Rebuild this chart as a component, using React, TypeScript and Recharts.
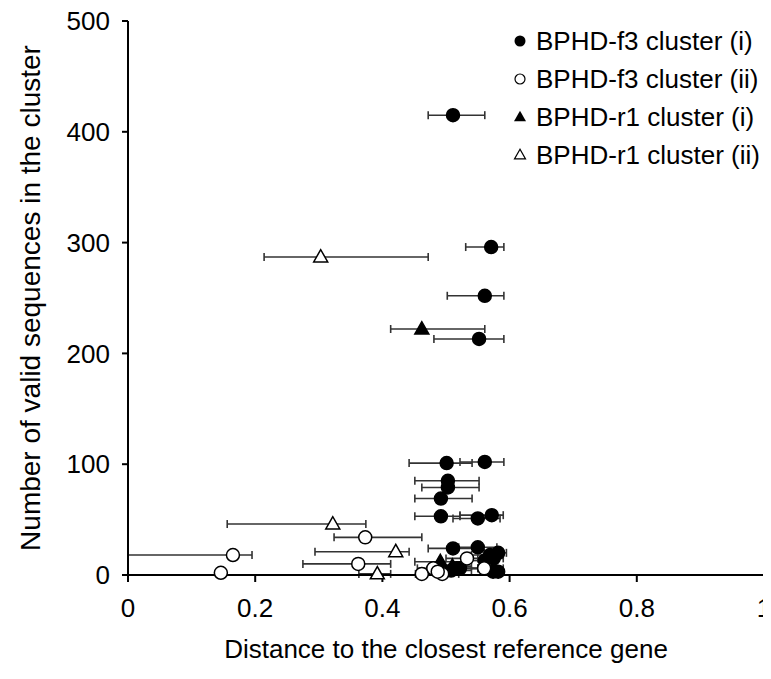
import React from 'react';
import {
  ErrorBar,
  Legend,
  Scatter,
  ScatterChart,
  XAxis,
  YAxis,
} from 'recharts';

const FONT = '"Liberation Sans", Arial, Helvetica, sans-serif';

const X_TICKS = [0, 0.2, 0.4, 0.6, 0.8, 1];
const Y_TICKS = [0, 100, 200, 300, 400, 500];

const SERIES_NAMES = [
  'BPHD-f3 cluster (i)',
  'BPHD-f3 cluster (ii)',
  'BPHD-r1 cluster (i)',
  'BPHD-r1 cluster (ii)',
];

// BPHD-f3 cluster (i) - filled circles
const F3_I_X = [0.511, 0.571, 0.561, 0.552, 0.501, 0.561, 0.503, 0.503, 0.492, 0.492, 0.550, 0.572, 0.511, 0.550, 0.569, 0.582, 0.575, 0.561, 0.517, 0.522, 0.574, 0.582, 0.508];
const F3_I_Y = [415, 296, 252, 213, 101, 102, 85, 79, 69, 53, 51, 54, 24, 25, 18, 20, 15, 13, 6, 6, 3, 3, 4];
const F3_I_LO = [0.472, 0.531, 0.502, 0.481, 0.442, 0.522, 0.451, 0.462, 0.451, 0.451, 0.511, 0.522, 0.472, 0.520, 0.540, 0.560, 0.550, 0.530, 0.480, 0.490, 0.560, 0.570, 0.470];
const F3_I_HI = [0.561, 0.591, 0.591, 0.591, 0.541, 0.591, 0.552, 0.552, 0.541, 0.522, 0.585, 0.590, 0.550, 0.580, 0.590, 0.595, 0.590, 0.580, 0.550, 0.550, 0.585, 0.590, 0.540];

// BPHD-f3 cluster (ii) - open circles
const F3_II_X = [0.165, 0.146, 0.373, 0.362, 0.533, 0.560, 0.462, 0.480, 0.494, 0.487];
const F3_II_Y = [18, 2, 34, 10, 15, 6, 1, 6, 1, 3];
const F3_II_LO = [0, 0.146, 0.324, 0.275, 0.500, 0.520, 0.452, 0.455, 0.470, 0.460];
const F3_II_HI = [0.195, 0.146, 0.462, 0.413, 0.560, 0.590, 0.470, 0.510, 0.520, 0.510];

// BPHD-r1 cluster (i) - filled triangles
const R1_I_X = [0.462, 0.491, 0.510];
const R1_I_Y = [222, 12, 8];
const R1_I_LO = [0.413, 0.451, 0.480];
const R1_I_HI = [0.561, 0.530, 0.540];

// BPHD-r1 cluster (ii) - open triangles
const R1_II_X = [0.303, 0.322, 0.421, 0.392];
const R1_II_Y = [287, 46, 21, 1];
const R1_II_LO = [0.214, 0.156, 0.294, 0.363];
const R1_II_HI = [0.472, 0.374, 0.442, 0.413];

const toRows = (xs: number[], ys: number[], lo: number[], hi: number[]) =>
  xs.map((x, i) => ({ x, y: ys[i], err: [x - lo[i], hi[i] - x] }));

const f3i = toRows(F3_I_X, F3_I_Y, F3_I_LO, F3_I_HI);
const f3ii = toRows(F3_II_X, F3_II_Y, F3_II_LO, F3_II_HI);
const r1i = toRows(R1_I_X, R1_I_Y, R1_I_LO, R1_I_HI);
const r1ii = toRows(R1_II_X, R1_II_Y, R1_II_LO, R1_II_HI);

const circleShape = (fill: string, r: number) => (props: any) => (
  <circle cx={props.cx} cy={props.cy} r={r} fill={fill} stroke="#000" strokeWidth={1.5} />
);

const triPoints = (cx: number, cy: number, s: number) =>
  `${cx},${cy - s * 1.05} ${cx - s},${cy + s * 0.7} ${cx + s},${cy + s * 0.7}`;

const triangleShape = (fill: string, s: number) => (props: any) => (
  <polygon points={triPoints(props.cx, props.cy, s)} fill={fill} stroke="#000" strokeWidth={1.5} />
);

function LegendBox() {
  const marks = [
    (cx: number, cy: number) => <circle cx={cx} cy={cy} r={5.5} fill="#000" />,
    (cx: number, cy: number) => <circle cx={cx} cy={cy} r={5} fill="#fff" stroke="#000" strokeWidth={1.2} />,
    (cx: number, cy: number) => <polygon points={triPoints(cx, cy, 6)} fill="#000" />,
    (cx: number, cy: number) => <polygon points={triPoints(cx, cy, 5.5)} fill="#fff" stroke="#000" strokeWidth={1.2} />,
  ];
  return (
    <svg width={260} height={160} style={{ display: 'block' }}>
      {SERIES_NAMES.map((name, i) => (
        <g key={name}>
          {marks[i](11, 21 + i * 38)}
          <text x={27} y={30 + i * 38} fontSize={26} fontFamily={FONT} fill="#000">
            {name}
          </text>
        </g>
      ))}
    </svg>
  );
}

const errStyle = { stroke: '#333', strokeWidth: 1.6, width: 4 };

export default function App() {
  return (
    <div style={{ width: 771, height: 671, marginLeft: -8, marginTop: -8 }}>
      <ScatterChart
        width={771}
        height={671}
        margin={{ top: 21, right: 7, bottom: 26, left: 0 }}
      >
        <XAxis
          type="number"
          dataKey="x"
          domain={[0, 1]}
          ticks={X_TICKS}
          tickFormatter={(v) => String(v)}
          height={70}
          stroke="#000"
          strokeWidth={2}
          tickSize={7}
          tickMargin={17}
          tick={{ fill: '#000', fontSize: 26, fontFamily: FONT }}
          allowDataOverflow
          label={{
            value: 'Distance to the closest reference gene',
            position: 'insideBottom',
            offset: -13,
            fill: '#000',
            fontSize: 26,
            fontFamily: FONT,
          }}
        />
        <YAxis
          type="number"
          dataKey="y"
          domain={[0, 500]}
          ticks={Y_TICKS}
          width={128}
          stroke="#000"
          strokeWidth={2}
          tickSize={6}
          tickMargin={12}
          tick={{ fill: '#000', fontSize: 26, fontFamily: FONT }}
          label={{
            value: 'Number of valid sequences in the cluster',
            angle: -90,
            position: 'insideLeft',
            offset: 30,
            style: { textAnchor: 'middle' },
            fill: '#000',
            fontSize: 28,
            fontFamily: FONT,
          }}
        />
        <Legend
          layout="vertical"
          verticalAlign="middle"
          align="center"
          content={() => <LegendBox />}
          wrapperStyle={{ top: 20, left: 509, width: 260 }}
        />
        <Scatter
          name={SERIES_NAMES[0]}
          data={f3i}
          shape={circleShape('#000', 6.5)}
          isAnimationActive={false}
        >
          <ErrorBar dataKey="err" direction="x" {...errStyle} isAnimationActive={false} />
        </Scatter>
        <Scatter
          name={SERIES_NAMES[2]}
          data={r1i}
          shape={triangleShape('#000', 7)}
          isAnimationActive={false}
        >
          <ErrorBar dataKey="err" direction="x" {...errStyle} isAnimationActive={false} />
        </Scatter>
        <Scatter
          name={SERIES_NAMES[3]}
          data={r1ii}
          shape={triangleShape('#fff', 7)}
          isAnimationActive={false}
        >
          <ErrorBar dataKey="err" direction="x" {...errStyle} isAnimationActive={false} />
        </Scatter>
        <Scatter
          name={SERIES_NAMES[1]}
          data={f3ii}
          shape={circleShape('#fff', 6.5)}
          isAnimationActive={false}
        >
          <ErrorBar dataKey="err" direction="x" {...errStyle} isAnimationActive={false} />
        </Scatter>
      </ScatterChart>
    </div>
  );
}
